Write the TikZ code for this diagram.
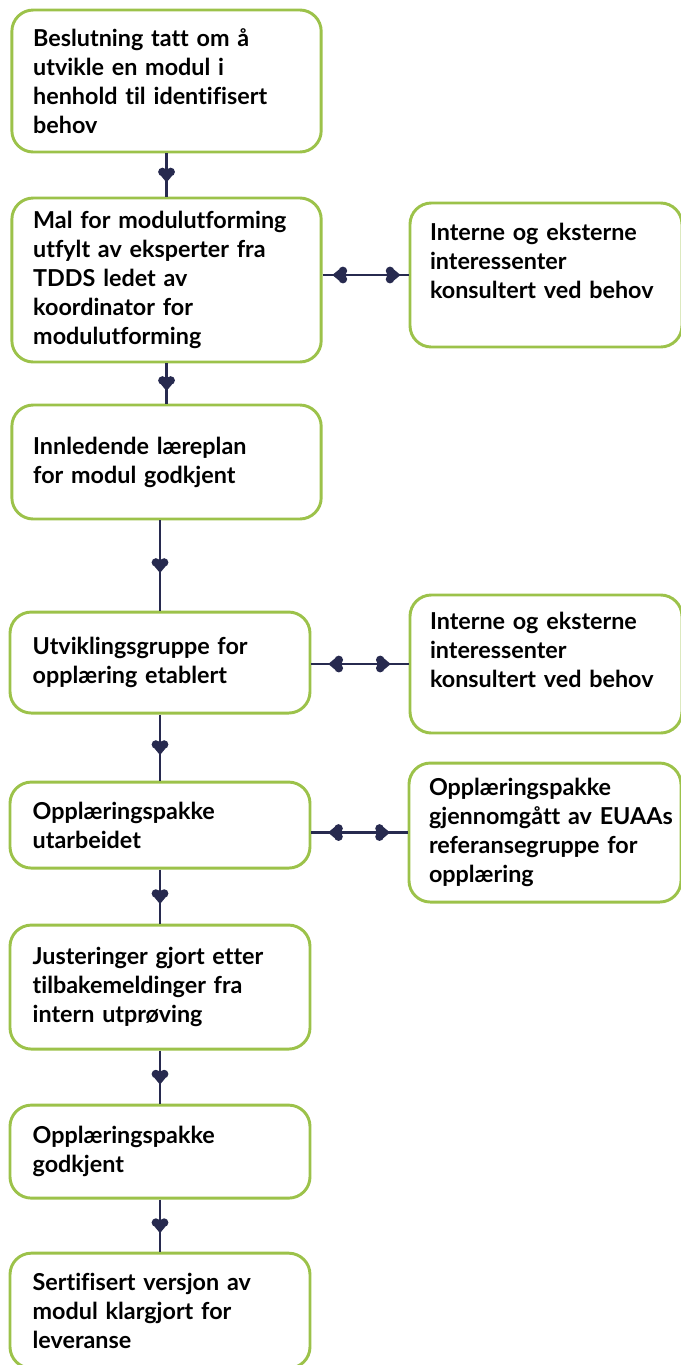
\documentclass[tikz,border=0pt]{standalone}
\usepackage{fontspec}
\setmainfont{Lato}[Ligatures=CommonOff]
\usetikzlibrary{positioning,decorations.markings}
\definecolor{leaf}{HTML}{9CC24A}
\definecolor{ink}{HTML}{272A4F}
\newcommand{\heartglyph}{\fill[ink] (-2.3pt,3.1pt) circle (3.2pt) (-2.3pt,-3.1pt) circle (3.2pt) (5.6pt,0pt) -- (-1.5pt,5.9pt) -- (-1.5pt,-5.9pt) -- cycle;}

\begin{document}
\begin{tikzpicture}[thick,
		stage/.style={draw=leaf, line width=2.2pt, rounded corners=16pt, inner sep=0pt, minimum width=232pt, text width=200pt, align=left, font=\bfseries\fontsize{17.5pt}{21.75pt}\selectfont},
		lower/.style={stage, minimum width=225pt, text width=191pt},
		side/.style={stage, minimum width=204pt, text width=174pt},
		link/.style={draw=ink, line width=1.8pt, decoration={markings, mark=at position 0.5 with {\heartglyph}}, postaction=decorate},
		twoway/.style 2 args={draw=ink, line width=1.8pt, decoration={markings, mark=at position #1 with {\begin{scope}[rotate=180]\heartglyph\end{scope}}, mark=at position #2 with {\heartglyph}}, postaction=decorate}]
		\clip (0,0) rectangle (510.75pt,-1023.75pt);
		% hovedløp
		\node[stage, minimum height=106.5pt] (b1) at (124.9pt,-60.75pt) {Beslutning tatt om å\\ utvikle en modul i\\ henhold til identifisert\\ behov};
		\node[stage, minimum height=123pt, node distance=149.25pt] (b2) [below of= b1] {Mal for modulutforming\\ utfylt av eksperter fra\\ TDDS ledet av\\ koordinator for\\ modulutforming};
		\node[stage, minimum height=85.5pt, node distance=136.5pt] (b3) [below of= b2] {Innledende læreplan\\ for modul godkjent};
		\node[lower, minimum height=75.75pt, node distance=150.4pt, xshift=-4.9pt] (b4) [below of= b3] {Utviklingsgruppe for\\ opplæring etablert};
		\node[lower, minimum height=64.5pt, node distance=121.9pt] (b5) [below of= b4] {Opplæringspakke\\ utarbeidet};
		\node[lower, minimum height=93pt, node distance=121.5pt] (b6) [below of= b5] {Justeringer gjort etter\\ tilbakemeldinger fra\\ intern utprøving};
		\node[lower, minimum height=69.75pt, node distance=123.4pt] (b7) [below of= b6] {Opplæringspakke\\ godkjent};
		\node[lower, minimum height=86.25pt, node distance=119.3pt] (b8) [below of= b7] {Sertifisert versjon av\\ modul klargjort for\\ leveranse};
		
		% sidebokser
		\node[side, minimum height=108pt, node distance=284.6pt, yshift=3.75pt] (r1) [right of= b2] {Interne og eksterne\\ interessenter\\ konsultert ved behov\\ ~};
		\node[side, minimum height=103.5pt, node distance=289.5pt, yshift=-1.1pt] (r2) [right of= b4] {Interne og eksterne\\ interessenter\\ konsultert ved behov\\ ~};
		\node[side, minimum height=104.25pt, node distance=288.75pt, yshift=-5.6pt] (r3) [right of= b5] {Opplæringspakke\\ \mbox{gjennomgått av EUAAs}\\ referansegruppe for\\ opplæring};
		
		\draw[link] (b1) -- (b2);
		\draw[link] (b2) -- (b3);
		\draw[link] (b3.south -| b4.north) -- (b4.north);
		\draw[link] (b4) -- (b5);
		\draw[link] (b5) -- (b6);
		\draw[link] (b6) -- (b7);
		\draw[link] (b7) -- (b8);
		
		\draw[twoway={0.2}{0.82}] (b2.east |- r1.west) -- (r1.west);
		\draw[twoway={0.25}{0.74}] (b4.east |- r2.west) -- (r2.west);
		\draw[twoway={0.25}{0.74}] (b5.east |- r3.west) -- (r3.west);
\end{tikzpicture}
\end{document}
